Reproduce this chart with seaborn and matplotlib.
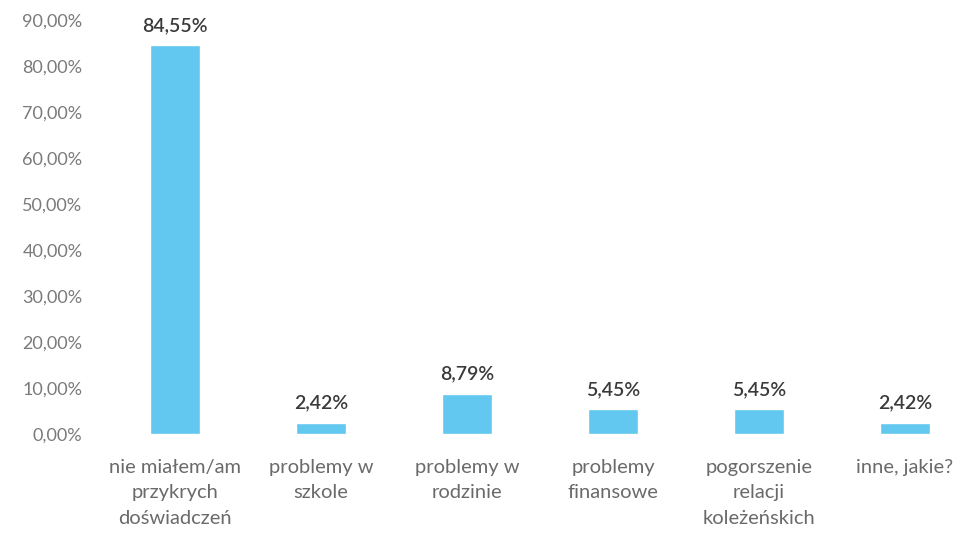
import matplotlib
matplotlib.use("Agg")
import matplotlib.pyplot as plt
from matplotlib.ticker import FuncFormatter, MultipleLocator
import seaborn as sns
import pandas as pd

categories = [
    "nie miałem/am\nprzykrych\ndoświadczeń",
    "problemy w\nszkole",
    "problemy w\nrodzinie",
    "problemy\nfinansowe",
    "pogorszenie\nrelacji\nkoleżeńskich",
    "inne, jakie?",
]
shares = [84.55, 2.42, 8.79, 5.45, 5.45, 2.42]
value_labels = ["84,55%", "2,42%", "8,79%", "5,45%", "5,45%", "2,42%"]

sns.set_theme(style="white")
plt.rcParams["font.family"] = ["Lato", "DejaVu Sans"]

df = pd.DataFrame({"kategoria": categories, "udzial": shares})

fig = plt.figure(figsize=(9.59, 5.36), dpi=100)
ax = fig.add_axes([102 / 959, 1 - 434 / 536, (959 - 102) / 959, (434 - 20) / 536])

sns.barplot(data=df, x="kategoria", y="udzial", color="#62C8EF",
            saturation=1, width=0.34, ax=ax)

ax.set_ylim(0, 90)
ax.set_xlim(-0.5, (959 - 175) / 146)
ax.yaxis.set_major_locator(MultipleLocator(10))
ax.yaxis.set_major_formatter(FuncFormatter(lambda v, _: f"{v:.2f}".replace(".", ",") + "%"))

for i, (v, lab) in enumerate(zip(shares, value_labels)):
    ax.annotate(lab, xy=(i, v), xytext=(0, 8), textcoords="offset points",
                ha="center", va="bottom", fontsize=14, color="#3a3a3a",
                fontweight="semibold", annotation_clip=False)

ax.set_xlabel("")
ax.set_ylabel("")
for s in ax.spines.values():
    s.set_visible(False)
ax.tick_params(axis="y", length=0, pad=14, labelsize=13, labelcolor="#7a7a7a")
ax.tick_params(axis="x", length=0, pad=18, labelsize=14.5, labelcolor="#6a6a6a")
for t in ax.get_xticklabels():
    t.set_linespacing(1.6)

fig.savefig("out.png", dpi=100, facecolor="white")
